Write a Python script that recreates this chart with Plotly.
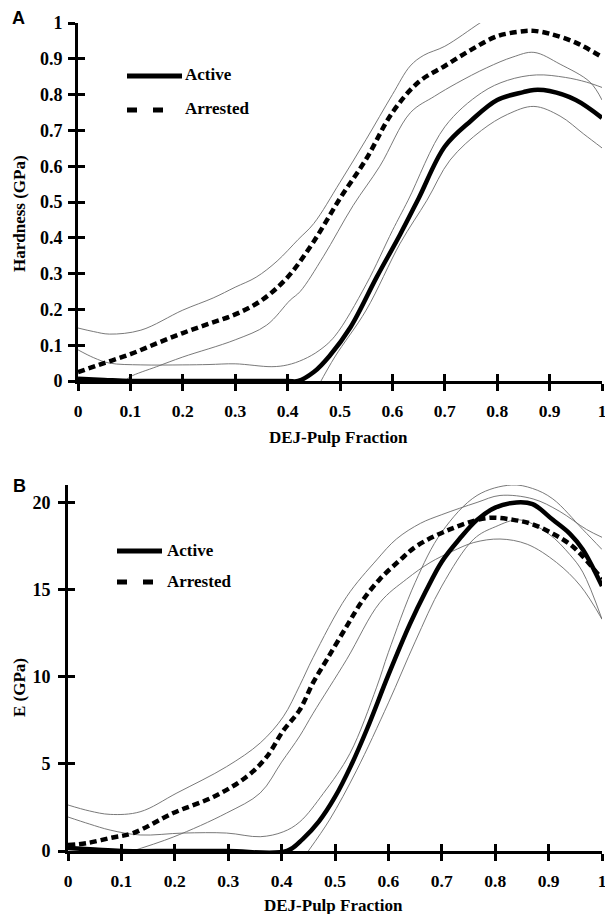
import plotly.graph_objects as go

# ---------------- Panel A: Hardness (GPa) ----------------
hard_active_x = [0, 0.05, 0.1, 0.2, 0.3, 0.4, 0.42, 0.45, 0.48, 0.52, 0.57, 0.615, 0.65, 0.7, 0.75, 0.8, 0.85, 0.87, 0.9, 0.95, 1.0]
hard_active_y = [0.006, 0.003, 0.0, 0.0, 0.0, 0.0, 0.0, 0.025, 0.07, 0.15, 0.29, 0.41, 0.51, 0.655, 0.727, 0.785, 0.807, 0.813, 0.81, 0.785, 0.735]

hard_active_hi_x = [0, 0.03, 0.06, 0.12, 0.2, 0.25, 0.3, 0.37, 0.4, 0.43, 0.46, 0.49, 0.55, 0.6, 0.63, 0.7, 0.77, 0.82, 0.875, 0.93, 0.97, 1.0]
hard_active_hi_y = [0.087, 0.065, 0.05, 0.045, 0.045, 0.046, 0.048, 0.04, 0.045, 0.06, 0.085, 0.125, 0.27, 0.42, 0.505, 0.71, 0.805, 0.84, 0.855, 0.848, 0.835, 0.82]

hard_active_lo_x = [0.46, 0.49, 0.55, 0.615, 0.666, 0.71, 0.77, 0.82, 0.87, 0.92, 0.965, 1.0]
hard_active_lo_y = [-0.01, 0.067, 0.198, 0.385, 0.505, 0.617, 0.70, 0.745, 0.767, 0.74, 0.69, 0.651]

hard_arrest_x = [0, 0.05, 0.1, 0.15, 0.2, 0.25, 0.3, 0.35, 0.4, 0.45, 0.5, 0.55, 0.6, 0.65, 0.7, 0.75, 0.8, 0.85, 0.87, 0.9, 0.95, 1.0]
hard_arrest_y = [0.025, 0.05, 0.075, 0.105, 0.134, 0.16, 0.186, 0.225, 0.29, 0.39, 0.51, 0.62, 0.75, 0.835, 0.88, 0.925, 0.963, 0.977, 0.978, 0.97, 0.945, 0.905]

hard_arrest_hi_x = [0, 0.03, 0.06, 0.12, 0.2, 0.258, 0.3, 0.34, 0.38, 0.42, 0.45, 0.5, 0.55, 0.6, 0.634, 0.66, 0.7, 0.767, 0.8]
hard_arrest_hi_y = [0.148, 0.138, 0.131, 0.142, 0.198, 0.232, 0.262, 0.29, 0.335, 0.395, 0.44, 0.555, 0.675, 0.80, 0.88, 0.91, 0.935, 1.0, 1.03]

hard_arrest_lo_x = [0.09, 0.1, 0.15, 0.2, 0.3, 0.36, 0.405, 0.424, 0.468, 0.525, 0.576, 0.634, 0.68, 0.723, 0.78, 0.83, 0.87, 0.92, 0.977, 1.0]
hard_arrest_lo_y = [0.0, 0.012, 0.04, 0.067, 0.115, 0.156, 0.226, 0.25, 0.347, 0.49, 0.6, 0.749, 0.795, 0.832, 0.875, 0.905, 0.918, 0.885, 0.835, 0.785]

# ---------------- Panel B: E (GPa) ----------------
e_active_x = [0, 0.05, 0.1, 0.2, 0.3, 0.41, 0.44, 0.47, 0.5, 0.53, 0.56, 0.6, 0.64, 0.67, 0.7, 0.733, 0.766, 0.8, 0.84, 0.87, 0.908, 0.94, 0.964, 1.0]
e_active_y = [0.17, 0.08, 0.0, 0.0, 0.0, 0.0, 0.7, 1.7, 3.1, 4.9, 7.0, 10.1, 13.0, 14.9, 16.6, 17.9, 19.0, 19.7, 20.0, 19.9, 19.0, 18.2, 17.3, 15.2]

e_active_hi_x = [0, 0.04, 0.079, 0.135, 0.216, 0.297, 0.36, 0.403, 0.434, 0.478, 0.528, 0.578, 0.6, 0.65, 0.7, 0.766, 0.83, 0.87, 0.908, 0.964, 1.0]
e_active_hi_y = [1.95, 1.55, 1.2, 0.92, 1.03, 1.03, 0.82, 1.1, 1.67, 3.3, 5.6, 9.4, 11.4, 15.4, 18.3, 20.4, 21.0, 20.8, 20.2, 18.45, 17.3]

e_active_lo_x = [0.45, 0.49, 0.54, 0.6, 0.65, 0.7, 0.76, 0.8, 0.846, 0.9, 0.94, 0.964, 1.0]
e_active_lo_y = [0.0, 1.8, 4.6, 8.5, 12.0, 15.2, 17.9, 18.6, 19.0, 18.2, 17.0, 16.0, 13.3]

e_arrest_x = [0, 0.035, 0.08, 0.122, 0.197, 0.272, 0.335, 0.372, 0.403, 0.434, 0.459, 0.485, 0.522, 0.55, 0.584, 0.622, 0.653, 0.715, 0.784, 0.834, 0.87, 0.908, 0.94, 0.964, 1.0]
e_arrest_y = [0.34, 0.45, 0.75, 1.03, 2.18, 3.1, 4.27, 5.4, 6.9, 8.1, 9.66, 11.0, 12.9, 14.3, 15.6, 16.7, 17.5, 18.45, 19.1, 19.0, 18.75, 18.2, 17.6, 16.9, 15.6]

e_arrest_hi_x = [0, 0.04, 0.079, 0.135, 0.204, 0.297, 0.36, 0.403, 0.434, 0.459, 0.522, 0.578, 0.615, 0.66, 0.7, 0.766, 0.809, 0.871, 0.92, 0.971, 1.0]
e_arrest_hi_y = [2.64, 2.3, 2.1, 2.25, 3.33, 4.84, 6.2, 7.7, 9.5, 11.1, 14.6, 16.7, 17.9, 18.8, 19.3, 20.0, 20.4, 20.2, 19.5, 18.45, 18.0]

e_arrest_lo_x = [0.11, 0.197, 0.297, 0.36, 0.4, 0.434, 0.459, 0.522, 0.584, 0.634, 0.678, 0.72, 0.76, 0.809, 0.86, 0.915, 0.96, 1.0]
e_arrest_lo_y = [-0.1, 0.8, 2.18, 3.33, 5.1, 6.6, 7.9, 11.0, 14.25, 15.6, 16.55, 17.2, 17.7, 17.9, 17.6, 16.55, 15.2, 13.3]

x_ticks = [0, 0.1, 0.2, 0.3, 0.4, 0.5, 0.6, 0.7, 0.8, 0.9, 1.0]
x_tick_text = ["0", "0.1", "0.2", "0.3", "0.4", "0.5", "0.6", "0.7", "0.8", "0.9", "1"]
hard_ticks = [0, 0.1, 0.2, 0.3, 0.4, 0.5, 0.6, 0.7, 0.8, 0.9, 1.0]
hard_tick_text = ["0", "0.1", "0.2", "0.3", "0.4", "0.5", "0.6", "0.7", "0.8", "0.9", "1"]
e_ticks = [0, 5, 10, 15, 20]
e_tick_text = ["0", "5", "10", "15", "20"]

W, H = 605, 914
SERIF = "Liberation Serif, Times New Roman, serif"
CI_COLOR = "#6a6a6a"
MAIN_W = 4.5
DASH = "7px,4px"

fig = go.Figure()

def add(x, y, xa, ya, kind):
    if kind == "active":
        line = dict(color="black", width=MAIN_W)
    elif kind == "arrest":
        line = dict(color="black", width=MAIN_W, dash=DASH)
    else:
        line = dict(color=CI_COLOR, width=0.9)
    fig.add_trace(go.Scatter(x=x, y=y, mode="lines", line=line, line_shape="spline",
                             xaxis=xa, yaxis=ya, showlegend=False, hoverinfo="skip"))

# Panel A
add(hard_active_hi_x, hard_active_hi_y, "x", "y", "ci")
add(hard_active_lo_x, hard_active_lo_y, "x", "y", "ci")
add(hard_arrest_hi_x, hard_arrest_hi_y, "x", "y", "ci")
add(hard_arrest_lo_x, hard_arrest_lo_y, "x", "y", "ci")
add(hard_active_x, hard_active_y, "x", "y", "active")
add(hard_arrest_x, hard_arrest_y, "x", "y", "arrest")
# Panel B
add(e_active_hi_x, e_active_hi_y, "x2", "y2", "ci")
add(e_active_lo_x, e_active_lo_y, "x2", "y2", "ci")
add(e_arrest_hi_x, e_arrest_hi_y, "x2", "y2", "ci")
add(e_arrest_lo_x, e_arrest_lo_y, "x2", "y2", "ci")
add(e_active_x, e_active_y, "x2", "y2", "active")
add(e_arrest_x, e_arrest_y, "x2", "y2", "arrest")

xtickfont = dict(family=SERIF, size=17.5, color="black", weight="bold")
ytickfont = dict(family=SERIF, size=18, color="black", weight="bold")

def main_axis(domain, rng, tv, tt, anchor, standoff, font):
    return dict(domain=domain, range=rng, tickvals=tv, ticktext=tt, anchor=anchor,
                showline=True, linecolor="black", linewidth=3, ticks="outside",
                ticklen=7, tickwidth=3, tickcolor="black", showgrid=False,
                zeroline=False, tickfont=font, ticklabelstandoff=standoff,
                ticklabeloverflow="allow", automargin=False, fixedrange=True)

def over_axis(over, rng, tv, anchor):
    return dict(overlaying=over, range=rng, tickvals=tv, anchor=anchor,
                showline=False, ticks="inside", ticklen=7, tickwidth=3,
                tickcolor="black", showticklabels=False, showgrid=False, zeroline=False,
                automargin=False, fixedrange=True)

xA = [78 / W, 602 / W]
yA = [1 - 381 / H, 1 - 23 / H]
xB = [68 / W, 602 / W]
yB = [1 - 851 / H, 1 - 485 / H]

fig.update_layout(
    width=W, height=H, autosize=False,
    margin=dict(l=0, r=0, t=0, b=0, pad=0, autoexpand=False),
    paper_bgcolor="white", plot_bgcolor="white", showlegend=False,
    xaxis=main_axis(xA, [0, 1], x_ticks, x_tick_text, "y", 5, xtickfont),
    yaxis=main_axis(yA, [0, 1], hard_ticks, hard_tick_text, "x", 2, ytickfont),
    xaxis2=main_axis(xB, [0, 1], x_ticks, x_tick_text, "y2", 5, xtickfont),
    yaxis2=main_axis(yB, [0, 21], e_ticks, e_tick_text, "x2", 4, ytickfont),
    xaxis3=over_axis("x", [0, 1], x_ticks, "y"),
    yaxis3=over_axis("y", [0, 1], hard_ticks, "x"),
    xaxis4=over_axis("x2", [0, 1], x_ticks, "y2"),
    yaxis4=over_axis("y2", [0, 21], e_ticks, "x2"),
)
# invisible traces so the overlay tick axes are drawn
for xa, ya in [("x3", "y3"), ("x4", "y4"), ("x", "y3"), ("x2", "y4"), ("x3", "y"), ("x4", "y2")]:
    fig.add_trace(go.Scatter(x=[None], y=[None], xaxis=xa, yaxis=ya, showlegend=False, hoverinfo="skip"))

txt = dict(family=SERIF, size=17, color="black", weight="bold")

def px(x):
    return x / W

def py(y):
    return 1 - y / H

annotations = []
shapes = []

def label(text, x, y, xanchor="center", angle=0, font=txt):
    annotations.append(dict(text=text, x=px(x), y=py(y), xref="paper", yref="paper",
                            xanchor=xanchor, yanchor="middle", showarrow=False,
                            textangle=angle, font=font))

def legend(x0, x1, xd1, yl1, yl2, xt):
    shapes.append(dict(type="line", xref="paper", yref="paper", x0=px(x0), x1=px(x1),
                       y0=py(yl1), y1=py(yl1), line=dict(color="black", width=5)))
    shapes.append(dict(type="line", xref="paper", yref="paper", x0=px(x0), x1=px(xd1),
                       y0=py(yl2), y1=py(yl2), line=dict(color="black", width=5, dash="10px,16px")))
    label("Active", xt, yl1 - 1, "left")
    label("Arrested", xt, yl2 - 1, "left")

legend(127, 182, 163, 76, 110, 183)
legend(117, 162, 153, 551, 582, 165)

label("Hardness (GPa)", 19, 214, angle=-90)
label("E (GPa)", 19, 688, angle=-90)
label("DEJ-Pulp Fraction", 338, 437)
label("DEJ-Pulp Fraction", 333, 905)
label("A", 18, 18, font=dict(family="Liberation Sans, Arial, sans-serif", size=18, color="black", weight="bold"))
label("B", 19, 486, font=dict(family="Liberation Sans, Arial, sans-serif", size=18, color="black", weight="bold"))

fig.update_layout(annotations=annotations, shapes=shapes)
fig.write_html(
    "out.html",
    config={"displayModeBar": False, "responsive": False},
    post_script="document.body.style.margin='0';document.body.style.padding='0';document.body.style.overflow='hidden';",
)
